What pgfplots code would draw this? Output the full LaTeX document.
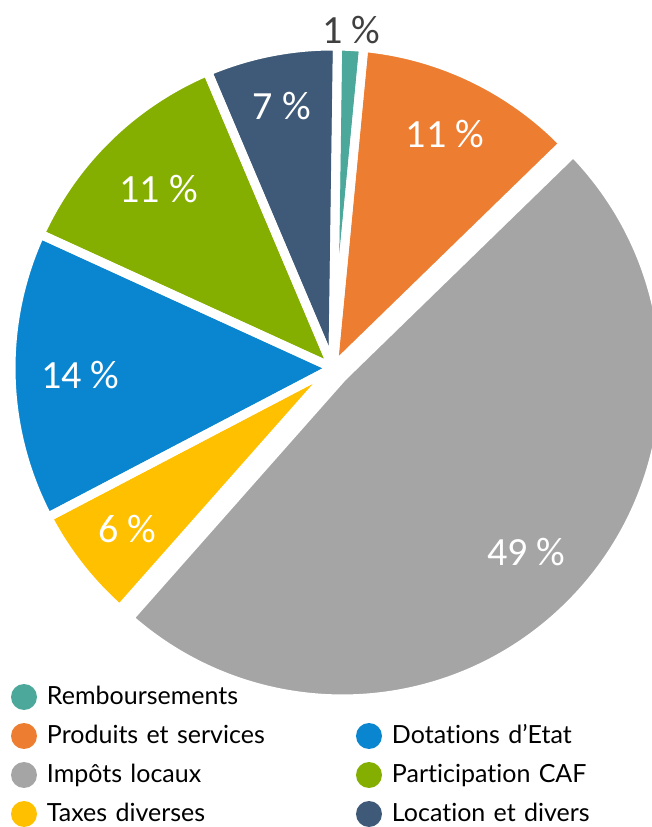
\documentclass[border=0pt]{standalone}
\usepackage{pgfplots}
\pgfplotsset{compat=1.18}
\usepackage{pgfplotstable}
\usepackage{fontspec}
\setmainfont{Lato}[Ligatures={NoCommon}]
\newfontfamily\numfont{Carlito}
\definecolor{cTeal}{HTML}{4BA89A}
\definecolor{cOrange}{HTML}{ED7D31}
\definecolor{cGray}{HTML}{A5A5A5}
\definecolor{cYellow}{HTML}{FFC000}
\definecolor{cBlue}{HTML}{0A86D0}
\definecolor{cGreen}{HTML}{84AF00}
\definecolor{cSlate}{HTML}{3F5A78}
\definecolor{cLabelDark}{HTML}{404040}

% share (%), colour, explode offset, label distance, label colour, printed label
\pgfplotstableread{
name value color explode labelr labelcolor pct
Remboursements 1.3 cTeal 0 338 cLabelDark 1
Produits 11.2 cOrange 0 259 white 11
Impots 48.8 cGray 13 254 white 49
Taxes 5.8 cYellow 0 261 white 6
Dotations 14.5 cBlue 0 253 white 14
Participation 11.8 cGreen 0 250 white 11
Location 6.6 cSlate 0 267 white 7
}\piedata

\pgfplotsset{
  dot legend/.style={legend image code/.code={\fill[##1] (0pt,0pt) circle (13pt);}},
}

\def\cx{333}
\def\cy{459}
\def\pieR{322}

\begin{document}
\begin{tikzpicture}
\useasboundingbox (0,0) rectangle (651pt,827pt);
% pre-compute wedge geometry from the table
\xdef\cumang{0.8}
\foreach \i in {0,...,6}{
  \pgfplotstablegetelem{\i}{value}\of\piedata
  \pgfmathsetmacro\aA{\cumang}
  \pgfmathsetmacro\aB{\cumang+3.6*\pgfplotsretval}
  \pgfmathsetmacro\aM{(\aA+\aB)/2}
  \pgfplotstablegetelem{\i}{explode}\of\piedata
  \pgfmathsetmacro\vx{\cx+\pgfplotsretval*sin(\aM)}
  \pgfmathsetmacro\vy{\cy+\pgfplotsretval*cos(\aM)}
  \pgfplotstablegetelem{\i}{labelr}\of\piedata
  \pgfmathsetmacro\lx{\vx+\pgfplotsretval*sin(\aM)}
  \pgfmathsetmacro\ly{\vy+\pgfplotsretval*cos(\aM)}
  \pgfmathsetmacro\sA{90-\aA}
  \pgfmathsetmacro\eA{90-\aB}
  \expandafter\xdef\csname pS\i\endcsname{\sA}
  \expandafter\xdef\csname pE\i\endcsname{\eA}
  \expandafter\xdef\csname pX\i\endcsname{\vx}
  \expandafter\xdef\csname pY\i\endcsname{\vy}
  \expandafter\xdef\csname pLX\i\endcsname{\lx}
  \expandafter\xdef\csname pLY\i\endcsname{\ly}
  \pgfplotstablegetelem{\i}{color}\of\piedata
  \expandafter\xdef\csname pC\i\endcsname{\pgfplotsretval}
  \pgfplotstablegetelem{\i}{labelcolor}\of\piedata
  \expandafter\xdef\csname pLC\i\endcsname{\pgfplotsretval}
  \pgfplotstablegetelem{\i}{pct}\of\piedata
  \expandafter\xdef\csname pT\i\endcsname{\pgfplotsretval}
  \xdef\cumang{\aB}
}
\begin{axis}[
  at={(0,0)}, anchor=origin,
  x=1pt, y=1pt, disabledatascaling,
  xmin=0, xmax=651, ymin=0, ymax=827,
  hide axis, clip=false,
  legend columns=2,
  legend cell align=left,
  legend style={
    at={(axis cs:11,149.5)}, anchor=north west,
    draw=none, fill=none, inner sep=0pt, outer sep=0pt,
    column sep=6pt, row sep=0pt,
    font=\fontsize{25}{30}\selectfont,
    nodes={text width=299pt, align=left, inner xsep=4pt, inner ysep=0pt,
           text height=27pt, text depth=12pt},
  },
]
\pgfplotsinvokeforeach{0,...,6}{
  \fill[fill=\csname pC#1\endcsname]
    (axis cs:\csname pX#1\endcsname,\csname pY#1\endcsname)
    -- ++(\csname pS#1\endcsname:\pieR pt)
    arc[start angle=\csname pS#1\endcsname, end angle=\csname pE#1\endcsname, radius=\pieR pt]
    -- cycle;
}
\pgfplotsinvokeforeach{0,...,6}{
  \draw[white, line width=9pt, line join=round]
    (axis cs:\csname pX#1\endcsname,\csname pY#1\endcsname)
    -- ++(\csname pS#1\endcsname:\pieR pt)
    arc[start angle=\csname pS#1\endcsname, end angle=\csname pE#1\endcsname, radius=\pieR pt]
    -- cycle;
}
\pgfplotsinvokeforeach{0,...,6}{
  \node[text=\csname pLC#1\endcsname, font=\numfont\fontsize{40}{40}\selectfont, inner sep=0pt]
    at (axis cs:\csname pLX#1\endcsname,\csname pLY#1\endcsname) {\csname pT#1\endcsname\ \%};
}
\addlegendimage{dot legend, fill=cTeal, draw=none}
\addlegendentry{Remboursements}
\addlegendimage{empty legend}
\addlegendentry{}
\addlegendimage{dot legend, fill=cOrange, draw=none}
\addlegendentry{Produits et services}
\addlegendimage{dot legend, fill=cBlue, draw=none}
\addlegendentry{Dotations d’Etat}
\addlegendimage{dot legend, fill=cGray, draw=none}
\addlegendentry{Impôts locaux}
\addlegendimage{dot legend, fill=cGreen, draw=none}
\addlegendentry{Participation CAF}
\addlegendimage{dot legend, fill=cYellow, draw=none}
\addlegendentry{Taxes diverses}
\addlegendimage{dot legend, fill=cSlate, draw=none}
\addlegendentry{Location et divers}
\end{axis}
\end{tikzpicture}
\end{document}
